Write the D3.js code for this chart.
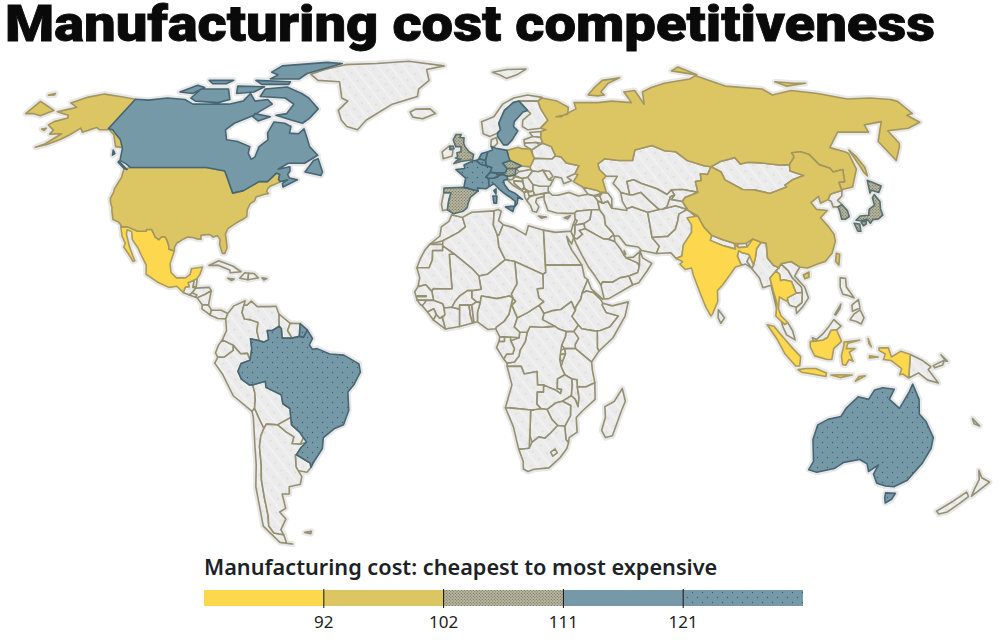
<!DOCTYPE html>
<html>
<head>
<meta charset="utf-8">
<script src="https://cdn.jsdelivr.net/npm/d3@7"></script>
<style>
  body { margin: 0; background: #fff; }
  svg { display: block; }
</style>
</head>
<body>
<svg width="1007" height="640"></svg>
<script>
const chartTitle = "Manufacturing cost competitiveness";
const legendTitle = "Manufacturing cost: cheapest to most expensive";
const legendTicks = [92, 102, 111, 121];
const tierNames = ["t1", "t2", "t3", "t4", "t5"];

// countries by cost tier, everything else has no data
const tier1 = ["Mexico", "India", "Thailand", "Indonesia"];
const tier2 = ["USA", "Russia", "China", "Poland", "Taiwan"];
const tier3 = ["UK", "Spain", "Czechia", "Austria", "Japan", "South Korea"];
const tier4 = ["Canada", "Sweden", "Germany", "Netherlands"];
const tier5 = ["Brazil", "Australia", "France", "Italy", "Belgium", "Switzerland"];

// name, then one "lon lat lon lat ..." string per ring
const outlines = [
["Greenland","-73 78.2 -68 76 -58 75.5 -54 70 -51 69 -53.5 66 -51 63 -48 61 -43.5 60 -41 63 -32 68 -22 70.5 -22 73 -18 76 -20 80 -12 81.5 -30 83.5 -45 82.5 -60 82 -68 80"],
["Iceland","-24 65.5 -22 66.4 -16 66.5 -13.6 65 -18.5 63.4 -22.6 63.9"],
["Svalbard","11 79 18 80 27 80.2 22 78 17 76.7 14 78"],
["Guatemala","-92.2 14.5 -91.7 16 -90.5 16.1 -91 17.2 -89.1 17.8 -89.2 15.9 -88.2 15.7 -89.3 14.4 -90.1 13.8"],
["Belize","-89.1 17.9 -88.2 18.4 -88.2 16.2 -89.2 15.9"],
["Honduras","-88.2 15.7 -84 15.9 -83.2 15 -85 14 -87.5 13 -89.3 14.4"],
["El Salvador","-90.1 13.8 -89.3 14.4 -87.7 13.8 -88 13.2"],
["Nicaragua","-87.5 13 -85 14 -83.2 15 -83.7 11 -85.7 11.1"],
["Costa Rica","-85.7 11.1 -83.7 11 -82.6 9.6 -83 8.3 -85.7 10"],
["Panama","-83 8.3 -82.6 9.6 -79.5 9.6 -77.3 8.7 -77.9 7.2 -80.4 7.3 -81.5 7.7"],
["Cuba","-85 21.9 -82 23.2 -77 21.7 -74.2 20.2 -77.7 19.9 -78 20.7 -82 22"],
["Haiti","-74.4 18.4 -71.7 18 -71.7 19.8 -73 19.9"],
["Dominican Rep.","-71.7 18 -68.4 18.5 -69.9 19.7 -71.7 19.8"],
["Jamaica","-78.3 18.4 -76.2 18.2 -77 17.8"],
["Puerto Rico","-67.2 18.5 -65.6 18.3 -66.5 17.9"],
["Colombia","-77.3 8.7 -75.5 10.8 -72 12.2 -72.3 11 -72.8 9 -71.9 7.2 -70 7 -67.5 6.2 -67.8 3.8 -67 1.2 -69.8 1.7 -69.4 -1 -70 -4.2 -70.8 -2.3 -73 -2.4 -75.3 -0.1 -78.8 1.4 -77.5 4 -77.9 7.2"],
["Venezuela","-72.3 11 -71.3 11 -70 12.1 -68 10.6 -64 10.6 -62 10.7 -60.9 8.5 -60.7 7 -60.7 5.2 -62.8 4 -64.5 4 -64 1.5 -65.5 0.8 -67 1.2 -67.8 3.8 -67.5 6.2 -70 7 -71.9 7.2 -72.8 9"],
["Guyana","-60.9 8.5 -57.2 6 -58 4 -56.5 1.9 -59.7 1.9 -60 4.5 -60.7 5.2"],
["Suriname","-57.2 6 -54 5.9 -54.2 2.4 -56.5 1.9 -58 4"],
["Ecuador","-78.8 1.4 -75.3 -0.1 -75.3 -1.5 -78.3 -3.4 -80.3 -3.4 -81 -2.2 -80 0"],
["Peru","-80.3 -3.4 -78.3 -3.4 -75.3 -1.5 -75.3 -0.1 -73 -2.4 -70.8 -2.3 -70 -4.2 -72.9 -5.1 -74 -7.3 -73 -9.4 -70.6 -11 -69.5 -11 -69 -13 -69 -15 -69.5 -17.5 -70.4 -18.3 -76 -14 -79 -8 -81.3 -5"],
["Bolivia","-69.5 -11 -65.3 -10 -65.3 -11.7 -60.5 -13.7 -60.2 -16.2 -58 -17.5 -58 -20 -62.6 -22 -66.2 -21.8 -67.2 -23 -68.5 -20 -69.5 -17.5 -69 -15 -69 -13"],
["Paraguay","-58 -20 -58 -22 -55.6 -24 -54.6 -25.5 -55.8 -27.3 -58.6 -27.2 -57.7 -25.3 -60 -24 -62.6 -22"],
["Uruguay","-58.4 -33.5 -58 -30.2 -57.6 -30.2 -53.4 -32.5 -53.4 -33.7 -55 -35 -58 -34.5"],
["Chile","-70.4 -18.3 -69.5 -17.5 -68.5 -20 -67.2 -23 -68.5 -25 -69.5 -28 -70 -33 -71 -37 -71.5 -42 -72 -47 -73 -50 -72 -52 -68.6 -52.5 -68.6 -55 -66.5 -55.2 -71 -54.7 -75 -50 -74 -44 -73.5 -39 -71.7 -33 -71 -28 -70.2 -20"],
["Argentina","-66.2 -21.8 -62.6 -22 -60 -24 -57.7 -25.3 -58.6 -27.2 -55.8 -27.3 -53.7 -26.7 -55.8 -28.3 -57.6 -30.2 -58 -30.2 -58.4 -33.5 -57 -36.2 -58 -38.3 -62 -39 -62.5 -41 -65 -41 -65 -45 -67.5 -46 -66 -48 -69 -51 -68.6 -52.5 -72 -52 -73 -50 -72 -47 -71.5 -42 -71 -37 -70 -33 -69.5 -28 -68.5 -25 -67.2 -23"],
["Falklands","-60.5 -51.8 -58 -51.5 -58.5 -52.2"],
["Morocco","-5.9 35.8 -2.2 35.1 -1.2 32.5 -3.5 31 -8.7 28.7 -13 27.7 -9.7 30 -9.3 32.5 -6.8 34"],
["W. Sahara","-13 27.7 -8.7 27.7 -8.7 26 -12 26 -12 23.5 -13 21.3 -17 21.3 -16 23.7 -14.5 26.2"],
["Algeria","-2.2 35.1 1 36.5 8.6 36.9 8.2 33 9.5 30.2 9.9 27 11.9 23.5 6 19.5 3.2 19 1.2 20.9 -4.8 25 -8.7 27.3 -8.7 28.7 -3.5 31 -1.2 32.5"],
["Tunisia","8.6 36.9 10 37.3 11 36.8 10 34.2 11.5 33.1 10 30.2 9.5 30.2 8.2 33"],
["Libya","11.5 33.1 15 32.3 19 30.3 20 32.8 25 31.6 25 22 25 20 24 19.5 15 23 11.9 23.5 9.9 27 9.5 30.2 10 30.2"],
["Egypt","25 31.6 29 31 32 31.2 34.2 31.3 34.9 29.5 34 27.8 32.6 29.9 33 28 34 26 35.5 24 36.9 22 25 22"],
["Sudan","25 22 36.9 22 37.5 18.7 38.5 18 36.5 14.3 36 12.7 34.3 10.5 34.1 9.5 32.9 12 29.5 9.8 27 9.5 24 8.7 22.5 11 24 12 22.5 13 22 15.5 24 15.7 24 19.5 25 20"],
["South Sudan","24 8.7 27 9.5 29.5 9.8 32.9 12 34.1 9.5 33 7.9 35 5.5 33.5 3.7 31 3.7 28.5 4.5 27.4 5.2 23.5 7"],
["Eritrea","36.5 14.3 38.5 18 39.5 15.5 43.1 12.6 40 14.5 37.9 14.9"],
["Ethiopia","36.5 14.3 37.9 14.9 40 14.5 42.4 12.5 43 11.5 42.8 11 44 9 47.9 8 45 5 42 4 40 3.9 36 4.5 35 5.5 33 7.9 34.1 9.5 34.3 10.5 36 12.7"],
["Somalia","43 11.5 46 10.8 51.2 11.9 50 8 46 2 41.5 -1.7 41 -0.8 41 3.9 42 4 45 5 47.9 8 44 9 42.8 11"],
["Kenya","41 3.9 41 -0.8 41.5 -1.7 39.2 -4.7 34 -1 33.9 0.1 35 1.9 33.5 3.7 35 5.5 36 4.5 40 3.9"],
["Uganda","31 3.7 33.5 3.7 35 1.9 33.9 0.1 34 -1 30.5 -1 29.6 0 30.8 2.3"],
["Tanzania","34 -1 39.2 -4.7 39.5 -7 40.4 -10.4 37.5 -11.6 34.8 -11.5 34.6 -9.6 33 -9.4 30.7 -8.2 29.5 -6 30 -4.3 30.8 -2.4 30.5 -1"],
["Rwanda","29.1 -1.5 30.5 -1 30.8 -2.4 29 -2.7"],
["Burundi","29 -2.7 30.8 -2.4 30 -4.3 29.3 -4.4"],
["DR Congo","27.4 5.2 25 5 23.5 4.9 19.5 5.1 18.6 3.5 18 1 16.3 -1.5 16 -3 14.5 -4.7 12.2 -5 12.2 -5.9 13 -5.9 16.7 -5.9 17.7 -8 21.8 -7.3 22 -11 24 -11 24 -13 26 -11.8 28 -12.5 29.5 -13.4 29.8 -12.2 28.4 -12 28.4 -9.4 30.7 -8.2 29.5 -6 29 -4 29.6 0 30.8 2.3 31 3.7 28.5 4.5"],
["Congo","18.6 3.5 18 1 16.3 -1.5 16 -3 14.5 -4.7 12.2 -5 11.1 -3.9 12 -2.5 14 -2.4 14.5 -1 13.3 1.2 14 1.4 16 2 16.2 3.6"],
["Gabon","9.6 1 11.3 1 11.3 2.2 13.3 2.2 13.3 1.2 14.5 -1 14 -2.4 12 -2.5 11.1 -3.9 8.8 -0.7"],
["Eq. Guinea","9.6 1 11.3 1 11.3 2.2 9.8 2.2"],
["Cameroon","8.5 4.5 9.8 2.3 13.3 2.2 16 2 16.2 3.6 14.5 5 15.5 7.5 13.8 11 15 12 14.1 13 12.8 8.5 11.2 6.5 8.8 5"],
["CAR","14.5 5 16.2 3.6 18.6 3.5 19.5 5.1 23.5 4.9 25 5 27.4 5.2 23.5 7 24 8.7 22.5 11 18.9 9 15.5 7.5"],
["Chad","24 19.5 24 15.7 22 15.5 22.5 13 24 12 22.5 11 18.9 9 15.5 7.5 13.8 11 15 12 14.1 13 13.6 14 15.5 16.9 15 23"],
["Niger","11.9 23.5 15 23 15.5 16.9 13.6 14 14.1 13 13 13.5 9 12.8 4 13.5 3.6 11.7 2.4 11.9 0.9 13 0.9 15 3.9 15.4 3.2 19 6 19.5"],
["Nigeria","2.7 6.4 6 4.3 8.5 4.5 8.8 5 11.2 6.5 12.8 8.5 14.1 13 13 13.5 9 12.8 4 13.5 3.6 11.7 2.7 9"],
["Mali","-4.8 25 1.2 20.9 3.2 19 3.9 15.4 0.9 15 -0.5 15 -3 13.5 -4.5 12 -5.5 10.4 -8 10.2 -8.5 11.4 -11.4 12.3 -12 14.8 -11.5 15.6 -9.5 15.5 -5.5 15.5 -6.5 25"],
["Mauritania","-17 21.3 -13 21.3 -12 23.5 -12 26 -8.7 26 -8.7 27.3 -4.8 25 -6.5 25 -5.5 15.5 -9.5 15.5 -11.5 15.6 -12 14.8 -14 16.6 -16.5 16.1 -16 18.5"],
["Senegal","-16.5 16.1 -14 16.6 -12 14.8 -11.4 12.4 -16.7 12.4 -17.5 14.7"],
["Gambia","-16.7 13.6 -13.8 13.6 -13.8 13.3 -16.7 13.3"],
["Guinea-Bissau","-16.7 12.4 -13.7 12.3 -13.7 11 -15.5 11"],
["Guinea","-13.7 12.3 -11.4 12.3 -8.5 11.4 -8 10.2 -7.7 8.3 -9.4 7.4 -10.5 8.4 -11.3 10 -13.3 9.1 -15 10.8"],
["Sierra Leone","-13.3 9.1 -11.3 10 -10.5 8.4 -11.4 6.9"],
["Liberia","-11.4 6.9 -10.5 8.4 -9.4 7.4 -8.5 7.6 -7.5 4.4"],
["Ivory Coast","-7.5 4.4 -8.5 7.6 -7.7 8.3 -8 10.2 -5.5 10.4 -3 9.9 -3 5.1"],
["Burkina Faso","-5.5 10.4 -4.5 12 -3 13.5 -0.5 15 0.9 15 0.9 13 2.4 11.9 0.9 11 -3 11 -3 9.9"],
["Ghana","-3 5.1 -3 11 0 11 0.5 8 1.2 6.1"],
["Togo","0 11 0.9 11 1.6 6.2 1.2 6.1 0.5 8"],
["Benin","0.9 11 2.4 11.9 3.6 11.7 2.7 9 2.7 6.4 1.6 6.2"],
["Angola","12.2 -5.9 13 -5.9 16.7 -5.9 17.7 -8 21.8 -7.3 22 -11 24 -11 24 -13 22 -13 22 -16.3 23.4 -17.6 20.9 -18 14 -17.4 11.8 -17.3 13.8 -11 13 -8.5"],
["Zambia","22 -13 24 -13 24 -11 26 -11.8 28 -12.5 29.5 -13.4 29.8 -12.2 28.4 -12 28.4 -9.4 30.7 -8.2 33 -9.4 33.2 -11 33 -14 30.2 -15.5 28 -16 25.3 -17.8 23.4 -17.6 22 -16.3"],
["Malawi","33 -9.4 34.6 -9.6 34.8 -11.5 35.5 -14.5 35.3 -17 34.3 -15 33 -14 33.2 -11"],
["Mozambique","34.8 -11.5 37.5 -11.6 40.4 -10.4 40.7 -15 37 -18 34.9 -20 35.5 -24 33 -25.5 32.9 -26.9 32 -26 31.3 -22.4 33 -19.5 32.9 -16.7 30.2 -15.5 33 -14 34.3 -15 35.3 -17 35.5 -14.5"],
["Zimbabwe","25.3 -17.8 28 -16 30.2 -15.5 32.9 -16.7 33 -19.5 31.3 -22.4 29 -22.2 27 -20.5"],
["Botswana","20 -18 23.4 -17.6 25.3 -17.8 27 -20.5 29 -22.2 26.5 -24.5 25 -25.7 23 -25.3 20.8 -26.8 20 -24.8 20 -22"],
["Namibia","14 -17.4 20.9 -18 20 -18 20 -22 20 -28.4 17.5 -28.7 16.5 -28.6 14.5 -22.5 11.8 -17.3"],
["South Africa","16.5 -28.6 17.5 -28.7 20 -28.4 20.8 -26.8 23 -25.3 25 -25.7 26.5 -24.5 29 -22.2 31.3 -22.4 32 -26 32.9 -26.9 32.5 -28.5 30.5 -31 27 -33.8 22 -34.2 20 -34.8 18.4 -34.1 18.2 -32"],
["Lesotho","27.2 -29.5 28.6 -28.6 29.4 -29.7 28 -30.6"],
["Madagascar","49.3 -12 50.5 -15.5 49.5 -18 47.2 -25 45 -25.5 43.5 -23.5 44.4 -20 44 -17 47 -15.5"],
["Turkey","26.2 41.8 26 40 27 37 30 36.3 33 36.2 36 36.2 36.7 36.8 42 37.2 44.7 37.2 44.5 39.7 43.5 41.1 41.5 41.5 38 41 35 42 31 41.2 29 41.2 28 42"],
["Syria","36 36.2 36.7 36.8 42 37.2 41 34.5 38.8 33.4 36 33 35.7 33.3 36 34.6"],
["Lebanon","35.1 33.1 36 34.6 36.6 34.2 35.7 33"],
["Israel","34.2 31.3 35.1 33.1 35.7 33 35.5 31 34.9 29.5"],
["Jordan","35.5 31 35.7 33 36 33 38.8 33.4 39 32 37 31.5 38 30.5 36 29.2 34.9 29.5"],
["Iraq","42 37.2 44.7 37.2 46 35.5 46 33 48 31 48.5 30 47.7 30 46.5 29.1 44.7 29.2 39 32 38.8 33.4 41 34.5"],
["Saudi Arabia","34.9 29.5 36 29.2 38 30.5 37 31.5 39 32 44.7 29.2 46.5 29.1 48.4 28.5 50 26.5 51 24.7 51.6 24 55 22.7 55.7 22 55 20 52 19 49 18.5 46.5 17.3 43.3 17.4 42.7 16.5 41 19 39 21.5 37.2 24.7 35.5 28"],
["Yemen","42.7 16.5 43.3 17.4 46.5 17.3 49 18.5 52 19 53 16.6 45 12.8 43.5 12.7"],
["Oman","52 19 55 20 55.7 22 56 24.5 56.4 26 57 24 59.8 22.5 58 20.4 55 17.2 53 16.6"],
["UAE","51.6 24 55 22.7 55.7 22 56 24.5 56.3 25.7 54 24.2"],
["Qatar","51 24.7 51.2 26 51.6 25"],
["Kuwait","47.7 30 48.5 30 48.4 28.5 46.5 29.1"],
["Iran","44.7 37.2 44.5 39.7 46 39 48 39.6 49 37.6 54 37 54 37.5 56 38 61 36.5 61 31.5 61 29.6 63 27.2 61.7 25.2 57 26 56 27 52 27.5 50 30 48.5 30 48 31 46 33 46 35.5"],
["Afghanistan","61 36.5 65 37.3 71 38.3 74.8 37.3 71.5 36 70.5 33.9 69.3 31.9 66.3 29.9 61 29.6 61 31.5"],
["Pakistan","61.7 25.2 66.5 25.4 68 23.8 70 24.5 71 27.5 74.5 31 75 33 77 35.3 74.8 37.3 71.5 36 70.5 33.9 69.3 31.9 66.3 29.9 61 29.6 63 27.2"],
["Nepal","80.2 28.8 81 30.2 84.5 29 88 28 88 26.4 84 27.4"],
["Bhutan","89 26.8 89 27.9 92 28 92 27"],
["Bangladesh","88.2 24.5 89 26 89.8 25.5 92 25 92.3 24.5 91 23 92.4 21 90.5 22.3 89 22"],
["Sri Lanka","80 9.7 81.8 7.5 80.6 6 79.8 7.5"],
["Myanmar","92.3 21 93 22 94 24 95 26.5 97 28.3 98.6 28 98 24 99.5 22 101.2 21.3 100 20.4 97.7 18.5 98.2 15 99 11.5 98.7 10.2 97.7 16.5 95 15.8 94.3 18.5"],
["Laos","100 20.4 101.2 21.3 102 22.4 104 20.5 105 18.5 107.5 16 107.5 14.5 105.5 14.3 104.5 17.5 102 18 101 17.7 101 19.5"],
["Vietnam","102 22.4 105.5 23 108 21.5 105.8 19 108.5 16 109.3 13 107 10.4 105 8.7 105 10.4 107 11.7 107.5 14.5 107.5 16 105 18.5 104 20.5"],
["Cambodia","102.5 12 102.5 13 105.5 14.3 107.5 14.5 107 11.7 105 10.4 103 11"],
["Malaysia","100 6.5 101 5.7 102 6.2 103.4 4 104.2 1.4 101.5 2.8 100.4 5","109.7 2 111 1.5 113 3 115 5 116.8 7 119 5.2 117.5 4.2 115.7 4 114.5 2 113 1.3 110 1"],
["Philippines","120.5 18.5 122.2 18.4 122 16 124 13 122 13.7 120.5 14 120 16","122 7 123.5 8.6 125.5 9.7 126.5 7.5 125.5 5.8 124 6.5","123 11 125.3 12.5 125.5 10.2 123 9.3","117.2 8.4 119.5 11.3 119 10 117.5 8.3"],
["PNG","141 -2.6 145 -4.3 147.8 -6 147 -6.8 150.7 -10.5 147.2 -9.7 144 -7.7 141 -9.1","148.5 -5.7 152 -4.2 151.5 -5.5 149 -6.3","150.8 -2.7 153 -4.5 152.5 -4.5"],
["New Caledonia","164 -20.3 167 -22.3 165 -21.7"],
["North Korea","124.3 40 126 41.5 128 42 130.6 42.5 129.7 41 127.5 39.8 128.4 38.6 126.7 38 125 38 125.2 39.5"],
["Mongolia","87.8 49.2 92 50.7 98 51.8 98.9 50 102 50.5 106.5 50.3 113 49.7 116.7 49.8 115.7 48 119.8 46.7 115 45.5 111.5 44 111.8 43.5 105 41.7 100 42.7 96 42.8 91 45.5 90.7 47.7"],
["Norway","5.2 61 5 62.5 10 64 14 68 19 70 25 71 31 70.2 29 69 25.5 69 21 69 18.5 68.5 14.5 66 11.8 62 12.3 60 11 59 8 58 5.5 58.8"],
["Finland","21 69 25.5 69 29 69 29.5 66.5 31.5 62.9 28 60.5 23 60 21 61 21.5 63 25 65 24 66"],
["Denmark","8.2 55 8.5 57 10.5 57.7 10.8 56 9.5 55"],
["Estonia","23.5 59.2 28 59.5 27.5 57.7 24.5 58"],
["Latvia","21 57 24.5 58 27.5 57.7 28 56 25.5 56.2 21 56"],
["Lithuania","21 56 25.5 56.2 26.7 55.5 23.5 54 21 55.3"],
["Belarus","23.5 54 26.7 55.5 28 56 31 55 32 52.3 30.5 51.4 24 51.6 23.6 52.6"],
["Ukraine","24 51.6 30.5 51.4 32 52.3 34 52 35.5 50.3 40 49.5 38 47.2 35 46.2 36.5 45.3 33.5 44.4 33 46 30.7 46.4 29.7 45.3 28.3 45.5 28.2 46.5 26.6 48.2 24.9 47.8 22.9 48 22.2 48.4 22.2 49.2"],
["Moldova","26.6 48.2 29 47.9 30 46.5 28.3 45.5"],
["Slovakia","17 48.7 19 49.4 22.2 49.2 22.2 48.4 20 48 18 47.8"],
["Austria","9.6 47.3 13 47.5 13.8 48.7 17 48.7 16.5 46.9 14 46.5 12 47 10.5 46.9"],
["Hungary","16.5 46.9 18 47.8 22.2 48.4 22.9 48 21 46.2 18.8 45.9 16.5 46.7"],
["Ireland","-7.2 55.3 -7.2 54.2 -6 54 -6.2 52.3 -9.5 51.5 -10 53.5 -8.5 54.5"],
["Portugal","-8.8 41.9 -6.3 41.9 -7 39.7 -7.4 37.2 -9 37 -9.5 38.7"],
["Slovenia","13.7 45.6 13.7 46.5 16.3 46.7 15.5 45.6"],
["Croatia","13.7 45.4 15.5 45.6 16.5 46.4 19 45.9 19 45 16 45.2 16 44.7 18.5 42.5 15.5 44"],
["Bosnia","16 45.2 19 45 19.5 43.5 18.5 42.7 16 44.5"],
["Serbia","19 45.9 21 46.2 22.6 44.2 22.4 42.4 21 42.3 19.5 43"],
["Montenegro","18.5 42.5 19.5 43.3 20 42.5 19.3 41.9"],
["Macedonia","20.5 42 22.4 42.4 23 41.3 20.8 41"],
["Albania","19.3 41.9 20.5 42.3 21 40.7 20 39.7 19.4 40.6"],
["Greece","20 39.7 21 40.7 23 41.3 26.3 41.7 26 40.9 23.5 40.3 23 39.3 24 38 23 36.5 21.7 36.8 21.2 38.3","23.6 35.5 26.3 35.2 24.5 34.9"],
["Bulgaria","22.4 42.4 22.6 44.2 28 43.8 27.7 42.5 28 42 26.3 41.8 23 41.3"],
["Romania","21 46.2 22.9 48 24.9 47.8 26.6 48.2 28.3 45.5 29.7 45.3 28.6 43.8 25 43.7 22.6 44.2"],
["Cyprus","32.3 35 34.5 35.6 33.5 34.7"],
["Kazakhstan","47 50 50 51.5 55 51 60 51 62 54 69 55.3 73 53.8 77 53.5 80 51 85.5 49.5 87.8 49.2 85.5 47 83 47.2 82.5 45.3 80.3 45 80 42 75 42.8 71 42.7 69 41.4 66 43 61 44.5 58.5 45.5 56 45 56 41.3 53 42 52.5 42.8 51 44.5 53 46.5 49 46.5 47 48.5"],
["Uzbekistan","56 41.3 56 45 58.5 45.5 61 44.5 66 43 69 41.4 71 42.7 71.6 41.3 70 40.8 68 38 66.5 37.4 65 37.3 62.5 39.5 60 42 57 41.3"],
["Turkmenistan","53 42 56 41.3 57 41.3 60 42 62.5 39.5 65 37.3 61 36.5 56 38 54 37.5 53 39.5"],
["Kyrgyzstan","71.6 41.3 71 42.7 75 42.8 80 42 75 40.6 73.7 39.5 70 40"],
["Tajikistan","68 38 70 40.8 71.6 41.3 70 40 73.7 39.5 75 37 74.8 37.3 71 38.3 66.5 37.4"],
["Georgia","40 43.5 45 42.5 46.5 41.8 43.5 41.1 41.5 41.5"],
["Armenia","43.5 41.1 45.5 41 46.5 39 44.5 39.7"],
["Azerbaijan","45.5 41 46.5 41.8 46 42 48.5 41.8 49.5 40.3 49 37.6 48 39.6 46 39"],
["New Zealand","172.7 -34.5 175 -36.5 178.5 -37.7 177 -39.5 175.3 -41.6 174.8 -39.8 174.5 -37","172.7 -40.5 174.3 -41.7 172.7 -43.7 170.5 -46 168 -46.6 166.5 -45.8 170 -43"],
["Mexico","-117.1 32.5 -114.8 32.5 -111 31.3 -108.2 31.3 -108.2 31.8 -106.5 31.8 -104.5 29.6 -103.2 29 -102.5 29.8 -101.4 29.8 -100.5 28.9 -99.5 27.5 -99.1 26.4 -97.2 25.9 -97.8 22.4 -97 20 -95 18.5 -92 18.5 -90.7 19.5 -90.5 21 -87 21.5 -87.5 19.5 -88.2 18.4 -89.1 17.9 -91 17.2 -90.5 16.1 -91.7 16 -92.2 14.5 -94.5 16.2 -97 15.9 -101 17.4 -105 19.5 -105.5 22 -108 25 -109.4 26.7 -112 29 -113 31.2 -114.7 31.7 -114.5 30.5 -112.3 27 -110.5 24.5 -109.5 23.2 -110 23 -112 25 -114.2 27 -114 28 -115.8 30"],
["India","68 23.8 70 24.5 71 27.5 74.5 31 75 33 74 35 77.8 35.5 79 32.5 81 30.2 80.2 28.8 84 27.4 88 26.4 88 28 89 26.8 92 27 94.5 29.2 97 28.3 95 26.5 94 24 93 22 92.3 24.5 92 25 89.8 25.5 89 26 88.2 24.5 89 22 87 21.5 85 19.5 82 16.5 80.2 15 80 12 78 8.5 77.5 8 76 10.5 74.5 14.5 73 19 72.6 21.2 70.5 20.8 69 22.3 70 23"],
["Thailand","100 20.4 101 19.5 101 17.7 102 18 104.5 17.5 105.5 14.3 102.5 13 102.5 12 100.9 12.7 100 13.3 99.3 10 100 8 102 6.2 101 5.7 100 6.5 98.3 8 98.7 10.2 99 11.5 98.2 15 97.7 18.5"],
["Indonesia","95.4 5.6 97.5 5.2 100.5 2 103.5 -1 106 -3.2 105.8 -5.8 104.5 -5.8 101 -2.5 98.5 1.5","105.3 -6.8 108 -6.5 111 -6.5 114.5 -7.7 114.4 -8.7 110 -8 106.5 -7.5","109 1 110 1 113 1.3 114.5 2 115.7 4 117.5 4.2 119 1 116.5 -1 116 -4 114.5 -4 110.5 -3 109 -0.5","119.8 0.8 124.8 1.3 121 0.5 120.5 -1 123.3 -1 121.5 -2 122.8 -4.5 121.5 -4 120.5 -5.6 119.5 -5.4 119 -3 119.8 0","131 -0.8 134 -0.8 135 -3.3 138 -1.7 141 -2.6 141 -9.1 139 -8 138 -8.2 138.5 -6.5 135 -4.3 132.5 -4 133 -2.5 131 -1.5","116 -8.3 119 -8.2 122.8 -8.3 119 -9","124 -10 127 -8.5 125 -8.7","127.5 1.8 128.5 -0.5 127.7 0.5","128 -3 130.8 -3.3 128 -3.6"],
["USA","-124.7 48.4 -122.8 49 -95.2 49 -88 48 -82.5 41.8 -79 42.5 -74.5 45 -71.5 45 -70.3 46.2 -69.2 47.4 -67.8 47 -67.8 45.7 -67 44.9 -68.5 44.3 -70 43.8 -70.7 43 -70.8 42.2 -70 41.7 -71.5 41.4 -74 40.7 -74.1 39.7 -75.4 38.9 -75.9 37.2 -75.5 35.3 -76.6 34.6 -78 33.9 -79.2 33.2 -81 32 -81.4 30.5 -80.6 28.5 -80 26.8 -80.4 25.2 -81.2 25.2 -81.8 26.2 -82.7 27.8 -82.8 29 -84 30.1 -85.3 29.7 -86.5 30.4 -88.5 30.3 -89.5 30.2 -89.2 29.1 -90.5 29.2 -92 29.6 -93.8 29.7 -95 29.2 -97 28 -97.4 26.9 -97.2 25.9 -99.1 26.4 -99.5 27.5 -100.5 28.9 -101.4 29.8 -102.5 29.8 -103.2 29 -104.5 29.6 -106.5 31.8 -108.2 31.8 -108.2 31.3 -111 31.3 -114.8 32.5 -117.1 32.5 -117.3 33 -118.4 33.8 -120.6 34.5 -121.9 36.6 -122.5 37.8 -123.8 39.3 -124.4 40.4 -124.2 42 -124.5 43 -124 46.2","-141 69.6 -148 70.4 -156.5 71.3 -162 70.3 -166.5 68.4 -162 67 -164 66.5 -168 65.6 -162 64.5 -161 63.6 -165 62.5 -166 61.5 -162 59.9 -162 58.7 -157.5 58.8 -160.5 55.8 -163 54.8 -159.5 55.6 -156 57.2 -154 58.5 -152 60.5 -150 59.3 -146 60.7 -144 60 -141 60","-141 60.3 -137 58.5 -133 55 -130 54.7 -131.5 56 -134 58.5 -137 59.5 -140 60.2","-167 60.2 -165.5 60.5 -165.5 59.8"],
["Russia","28 59.5 30 60 28 60.5 31.5 62.9 29.5 66.5 29 69 31 70 37 69 41 67 40 64.8 35 64 37 64 44 66.5 44 68.5 54 68.5 60 69 68 68.5 67 72 72 72.5 73 68 75 72 80 73.5 87 75 100 76.5 104 77.7 113 74 128 73 130 71 140 72.5 150 71.5 160 69.7 170 70 178 69.5 180 68.9 180 65 177 64.5 179 62.3 172 60.5 163 59.7 163 56 162 55 156.7 51 155.6 56.5 161 60.5 164 62.5 156 61.5 155 59.3 143 59.3 135.5 54.7 140 53.5 141 53 140 48.5 135 43.5 131 42.8 130.6 42.5 131 44.8 133.2 45 135 48.4 131 47.7 130.7 48.8 127.5 49.8 126 52.8 123.5 53.5 120 53.2 120 52 116.7 49.8 113 49.7 106.5 50.3 102 50.5 98.9 50 98 51.8 92 50.7 87.8 49.2 85.5 49.5 80 51 77 53.5 73 53.8 69 55.3 62 54 60 51 55 51 50 51.5 47 50 47 48.5 49 46.5 47.5 45.5 48 42 46 42 45 42.5 40 43.5 37 45 39 47 38 47.2 40 49.5 35.5 50.3 34 52 32 52.3 31 55 28 56 27.5 57.5","-180 68.9 -175 67.5 -170 66 -173 64.3 -177 65 -180 65","-180 71 -178 71.5 -177.5 71 -180 70.9","142 54 143 52 143.5 49 142.5 46.6 142 47.5 142 50","51 71 55 70.7 58 71 57 72 62 75 68.5 76.9 60 76 55 73.5","95 79.5 105 78 100 81","137 75.5 145 75 150 75 140 74"],
["China","73.7 39.5 75 40.6 80 42 80.3 45 82.5 45.3 83 47.2 85.5 47 87.8 49.2 90.7 47.7 91 45.5 96 42.8 100 42.7 105 41.7 111.8 43.5 111.5 44 115 45.5 119.8 46.7 115.7 48 116.7 49.8 120 52 120 53.2 123.5 53.5 126 52.8 127.5 49.8 130.7 48.8 131 47.7 135 48.4 133.2 45 131 44.8 130.6 42.5 128 42 126 41.5 124.3 40 121.2 39 121.5 40.9 118 39.2 119 37.3 122.5 37 119.3 35 121 32.5 122 30.5 121.7 28.5 119.6 25.3 116.7 23 114 22.3 110.5 21.2 108 21.5 105.5 23 102 22.4 101.2 21.3 99.5 22 98 24 98.6 28 97 28.3 94.5 29.2 92 28 89 27.9 88 28 84.5 29 81 30.2 79 32.5 77.8 35.5 75 37","108.7 19.3 110.7 20.1 110.4 18.7 109 18.3"],
["Poland","14.2 53.9 18.5 54.8 19.8 54.4 23 54.3 23.6 52.6 24 51.6 22.2 49.2 19 49.4 15 51 14.6 52"],
["Taiwan","121 25.3 122 25 120.9 22 120.1 23"],
["UK","-5.5 50.1 -3 50.7 1.3 51.2 1.7 52.7 0 53.5 -1.5 55 -2 56 -1.9 57.6 -3.5 57.7 -3 58.6 -5 58.6 -6 57 -5 55 -3 55 -3 53.5 -4.5 53.2 -4.2 52 -5 51.7 -3 51.3 -4.5 51","-7.2 55 -6 55.2 -5.6 54.4 -7.2 54.2"],
["Spain","-8.8 43.2 -1.8 43.4 3.2 42.4 0.5 40.7 -0.3 39 -0.7 37.7 -2 36.8 -5.3 36.1 -7.4 37.2 -7 39.7 -6.3 41.9 -8.8 41.9"],
["Czechia","12.2 50.2 15 51 19 49.5 17 48.7 14.9 48.7 13.8 48.7"],
["Japan","131 34.3 133 35.5 136 35.7 137 37.3 139.5 38.5 140 40.5 141.2 41.4 142 39.5 141 37.5 140.8 35.7 138.8 34.7 136.8 34.5 135.5 33.5 135 34.6 132.5 34.2","140 41.8 141.5 45.4 145.3 43.8 143.2 42 141 42.6","130 33.5 131.8 33.3 131.3 31.3 130.3 31.3","132.5 33.8 134.5 34.2 134 33.3 132.8 32.8"],
["South Korea","126.7 38 128.4 38.6 129.4 37 129.2 35.3 127.5 34.6 126.3 34.6 126.7 36.8"],
["Canada","-141 69.6 -135 69.3 -128 70 -120 69.5 -115 68 -108 68 -100 68 -95 69 -94 71.5 -90 69 -85 69.5 -82 68 -85 66 -87 64.5 -93 62 -95 60 -92.5 57 -88 56.5 -82.5 55 -82 53 -80 51.3 -79 52 -79 55 -76.7 57 -78 59 -77.5 62.4 -73 62 -70 61 -69.5 59 -66 58.8 -64.5 60.3 -62 57.5 -60 55 -56 52.5 -60 50.2 -66 50.2 -69 48.5 -65 49.2 -64.5 48 -65 47 -64 46 -61 45.5 -65.5 43.5 -66 44.5 -64.5 45.5 -67 45 -67.8 45.7 -67.8 47 -69.2 47.4 -70.3 46.2 -71.5 45 -74.5 45 -79 42.5 -82.5 41.8 -88 48 -95.2 49 -122.8 49 -125 50 -128 51 -130 54.5 -133 57 -137 59 -139 60 -141 60.3","-80 73.7 -72 71.5 -68 70 -62 66.5 -64 63.5 -66 62 -71 63 -78 64.5 -74 65 -73 68 -78 70 -89 70.5 -89 73","-105 73 -117 73 -118 70 -115 69 -105 68.5 -101 69.5","-125 72 -120 74.3 -116 73.5 -119 71.5","-117 76 -106 76 -108 74.8 -114 74.8","-90 76.5 -77 76.5 -75 78.5 -62 82.5 -70 83 -90 81.5 -92 79 -88 78","-96 76 -80 75.5 -80 74.6 -92 74.6","-102 74 -90 73.8 -93 72 -100 71.5","-87 65 -80 64 -84 62.7 -87 64","-59 47.7 -53 46.7 -52.7 47.7 -55.5 51.5 -57 51","-128.3 50.8 -123.5 48.4 -125 48.8 -128.3 50.5","-133 54 -131.5 53 -132 52.5"],
["Sweden","11 59 12.3 60 11.8 62 14.5 66 18.5 68.5 21 69 24 66 22 65.5 18 62.5 17.5 61 19 59.7 16.5 57 14.5 55.5 13 55.5 11 58"],
["Germany","7 53.5 8.8 54 8.5 55 10 54.5 14.2 53.9 14.6 52 15 51 12.2 50.2 13.8 48.7 13 47.5 10 47.5 7.6 47.6 8.2 49 6.2 49.5 6 51"],
["Netherlands","3.5 51.4 4.7 53 7 53.5 6 51 4 51.4"],
["Brazil","-51.7 4.2 -50 1.8 -51 0 -50 -1.2 -48.5 -1 -44.5 -2.5 -40 -2.8 -35.2 -5.2 -34.8 -7.5 -37 -11 -39 -13 -39 -18 -41 -22 -44 -23 -48 -25.5 -48.7 -28.5 -52 -32 -53.4 -33.7 -53.4 -32.5 -57.6 -30.2 -55.8 -28.3 -53.7 -26.7 -54.6 -25.5 -55.6 -24 -58 -22 -58 -20 -58 -17.5 -60.2 -16.2 -60.5 -13.7 -65.3 -11.7 -65.3 -10 -69.5 -11 -70.6 -11 -73 -9.4 -74 -7.3 -72.9 -5.1 -70 -4.2 -69.4 -1 -69.8 1.7 -67 1.2 -65.5 0.8 -64 1.5 -64.5 4 -62.8 4 -60.7 5.2 -60 4.5 -59.7 1.9 -56.5 1.9 -54.2 2.4 -52.9 2.1"],
["Australia","114 -22 117 -20.5 121 -19.7 122.3 -17.3 125.5 -14.3 129 -15 130.5 -12.4 133 -11.8 136.8 -12.2 135.7 -15 139.5 -17.5 141.7 -13 142.5 -10.8 145.3 -15 146.3 -19 149 -21 153 -25.5 153.5 -28.5 152.5 -32.5 150 -37.2 146.5 -39 143.5 -38.8 140 -38 137.5 -35.5 138 -33 135.5 -34.8 134 -32.7 131 -31.5 126 -32.3 123.5 -34 118 -35 115 -34.3 115.7 -32 113.5 -26","144.7 -40.7 148.2 -40.8 148 -42.5 146.5 -43.5 145.3 -42"],
["France","-1.8 43.4 -1.2 46 -4.7 48.4 -1.5 48.7 -1.8 49.7 1.5 50.9 2.5 51 4.1 50 6.2 49.5 8.2 49 7.6 47.6 6 46.2 7 45.9 7 44 7.5 43.8 6 43 3 43.2 3.2 42.4","-54 5.9 -51.7 4.2 -52.9 2.1 -54.2 2.4","8.7 42.5 9.5 43 9.4 41.5"],
["Italy","7 45.9 9 46 10.4 46.6 12 47 13.7 46.5 13.7 45.7 12.3 45.3 12.5 44.2 14 42.5 16 41.8 18.5 40.1 17 40.5 16.6 38.9 15.7 38 16 39.5 14 40.8 12.2 41.8 10.5 43 8.8 44.4 7.5 43.8 7 44","12.5 38 15.6 38.2 15 36.7","8.3 41 9.7 41 9.5 39 8.6 39"],
["Belgium","2.5 51 4 51.4 6 51 6.2 49.5 4.1 50"],
["Switzerland","6 46.2 7.6 47.6 9.6 47.4 10.4 46.6 9 46 7 45.9"]
];

let svg = d3.select("svg");
let defs = svg.append("defs");

// no data: grey with diagonal runs of white and grey dots
let hatch = defs.append("pattern").attr("id", "p-none")
  .attr("width", 10).attr("height", 10)
  .attr("patternUnits", "userSpaceOnUse")
  .attr("patternTransform", "rotate(52)");
hatch.append("rect").attr("width", 10).attr("height", 10).attr("fill", "#ebebeb");
d3.range(0, 10, 2.5).forEach(function(x) {
  hatch.append("circle").attr("cx", x + 1).attr("cy", 3).attr("r", 0.7).attr("fill", "#fff");
});
hatch.append("circle").attr("cx", 4).attr("cy", 8).attr("r", 0.45).attr("fill", "#8f8f8f");

let grainy = defs.append("pattern").attr("id", "p-t3")
  .attr("width", 3).attr("height", 3)
  .attr("patternUnits", "userSpaceOnUse");
grainy.append("rect").attr("width", 3).attr("height", 3).attr("fill", "#b9b79e");
grainy.append("circle").attr("cx", 0.8).attr("cy", 0.8).attr("r", 0.6).attr("fill", "#6c6d5f");
grainy.append("circle").attr("cx", 2.3).attr("cy", 2.3).attr("r", 0.6).attr("fill", "#6c6d5f");

let dots = defs.append("pattern").attr("id", "p-t5")
  .attr("width", 10).attr("height", 10)
  .attr("patternUnits", "userSpaceOnUse");
dots.append("rect").attr("width", 10).attr("height", 10).attr("fill", "#7699a8");
dots.append("circle").attr("cx", 2.5).attr("cy", 2.5).attr("r", 0.7).attr("fill", "#3e5a66");
dots.append("circle").attr("cx", 7.5).attr("cy", 7.5).attr("r", 0.7).attr("fill", "#3e5a66");

let tierFill = d3.scaleOrdinal().domain(tierNames)
  .range(["#fdd84e", "#dcc563", "url(#p-t3)", "#7699a8", "url(#p-t5)"]);
let tierStroke = d3.scaleOrdinal().domain(tierNames)
  .range(["#a99c5e", "#a3965f", "#55706e", "#466674", "#466674"]);

let tierOf = {};
[tier1, tier2, tier3, tier4, tier5].forEach(function(list, i) {
  list.forEach(function(name) { tierOf[name] = tierNames[i]; });
});

function parseRing(text) {
  let nums = text.trim().split(/\s+/).map(Number);
  let ring = [];
  for (let i = 0; i < nums.length; i += 2) {
    ring.push([nums[i], nums[i + 1]]);
  }
  ring.push(ring[0]);
  return [ring];
}

let features = outlines.map(function(row) {
  return {
    type: "Feature",
    properties: { name: row[0], tier: tierOf[row[0]] || "none" },
    geometry: { type: "MultiPolygon", coordinates: row.slice(1).map(parseRing) }
  };
});

// coloured countries last so their outlines sit on top of the neighbours
features.sort(function(a, b) {
  return (a.properties.tier !== "none") - (b.properties.tier !== "none");
});

// Natural Earth, no clipping so the hand traced rings need no winding care
let projection = d3.geoNaturalEarth1()
  .scale(206)
  .translate([469, 345])
  .precision(0)
  .preclip(function(stream) { return stream; });
let path = d3.geoPath(projection);

// soft grey halo under all the land
svg.append("g").selectAll("path")
  .data(features)
  .enter().append("path")
  .attr("d", path)
  .attr("fill", "#e8e8e8")
  .attr("stroke", "#e8e8e8")
  .attr("stroke-width", 6)
  .attr("stroke-linejoin", "round");

svg.append("g").selectAll("path")
  .data(features)
  .enter().append("path")
  .attr("d", path)
  .attr("fill", function(d) { return d.properties.tier === "none" ? "url(#p-none)" : tierFill(d.properties.tier); })
  .attr("stroke", function(d) { return d.properties.tier === "none" ? "#949070" : tierStroke(d.properties.tier); })
  .attr("stroke-width", 1.6)
  .attr("stroke-linejoin", "round");

svg.append("text")
  .attr("x", 5)
  .attr("y", 41)
  .attr("textLength", 930)
  .attr("lengthAdjust", "spacingAndGlyphs")
  .attr("font-family", "Roboto, 'Liberation Sans', sans-serif")
  .attr("font-weight", 900)
  .attr("font-size", 50)
  .attr("fill", "#0a0a0a")
  .attr("stroke", "#0a0a0a")
  .attr("stroke-width", 0.8)
  .text(chartTitle);

// legend
let legendX = d3.scaleBand().domain(tierNames).range([204, 803]);

svg.append("text")
  .attr("x", 204)
  .attr("y", 575)
  .attr("font-family", "'Noto Sans', sans-serif")
  .attr("font-weight", 600)
  .attr("font-size", 21.7)
  .attr("fill", "#1c2226")
  .text(legendTitle);

svg.append("g").selectAll("rect")
  .data(tierNames)
  .enter().append("rect")
  .attr("x", function(d) { return legendX(d); })
  .attr("y", 590)
  .attr("width", legendX.bandwidth())
  .attr("height", 16)
  .attr("fill", function(d) { return tierFill(d); });

let tickG = svg.append("g").selectAll("g")
  .data(legendTicks)
  .enter().append("g")
  .attr("transform", function(d, i) { return "translate(" + legendX(tierNames[i + 1]) + ",0)"; });

tickG.append("line")
  .attr("y1", 589)
  .attr("y2", 608)
  .attr("stroke", "#111");

tickG.append("text")
  .attr("y", 628)
  .attr("text-anchor", "middle")
  .attr("font-family", "'Noto Sans', sans-serif")
  .attr("font-size", 17)
  .attr("fill", "#1c2226")
  .text(function(d) { return d; });
</script>
</body>
</html>
